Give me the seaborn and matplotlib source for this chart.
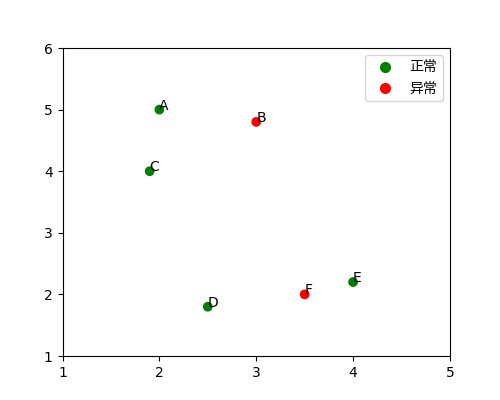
import matplotlib
matplotlib.use('Agg')
import matplotlib.pyplot as plt
import pandas as pd
import seaborn as sns

names = ['A', 'B', 'C', 'D', 'E', 'F']
xs = [2, 3, 1.9, 2.5, 4, 3.5]
ys = [5, 4.8, 4, 1.8, 2.2, 2]
groups = ['正常', '异常', '正常', '正常', '正常', '异常']
xticks = [1, 2, 3, 4, 5]
yticks = [1, 2, 3, 4, 5, 6]

plt.rcParams['font.family'] = ['DejaVu Sans', 'Noto Sans CJK SC']

df = pd.DataFrame({'x': xs, 'y': ys, 'group': groups, 'name': names})

fig, ax = plt.subplots(figsize=(5, 4), dpi=100)
sns.scatterplot(data=df, x='x', y='y', hue='group', hue_order=['正常', '异常'],
                palette=['green', 'red'], s=36, linewidth=1, edgecolor='face', ax=ax)

for _, r in df.iterrows():
    ax.text(r['x'], r['y'], r['name'], fontsize=10)

ax.set_xlim(1, 5)
ax.set_ylim(1, 6)
ax.set_xticks(xticks)
ax.set_yticks(yticks)
ax.set_xlabel('')
ax.set_ylabel('')
leg = ax.legend(loc='upper right')
for h in leg.legend_handles:
    h.set_markersize(7)

plt.savefig('out.png')
